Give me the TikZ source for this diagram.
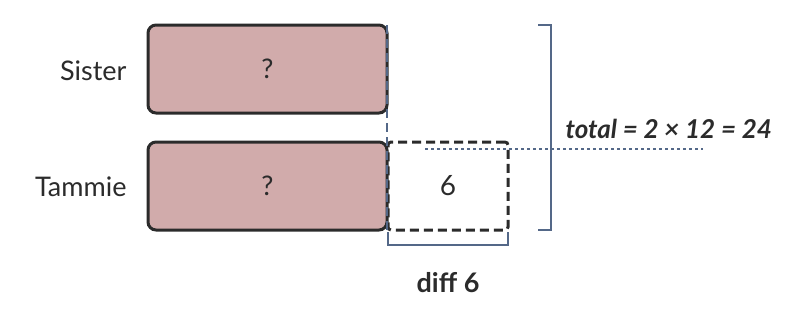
\documentclass[tikz,border=0pt]{standalone}
\usepackage{fontspec}
\setmainfont{Lato}
\usepackage{xcolor}
\usepackage{tikz}
\usetikzlibrary{positioning, calc}
\definecolor{rosefill}{RGB}{209,171,171}
\definecolor{inkdark}{RGB}{43,43,43}
\definecolor{slate}{RGB}{84,104,136}

\begin{document}
\begin{tikzpicture}[
    x=1pt, y=-1pt,
    node distance = 29pt and 1pt,
    bar/.style     = {rectangle, rounded corners=8pt, draw=inkdark, line width=3pt,
                      fill=rosefill, minimum width=239pt, minimum height=88pt,
                      outer sep=0pt, font=\fontsize{27}{32}\selectfont, text=inkdark},
    extra/.style   = {rectangle, rounded corners=3pt, draw=inkdark, line width=3pt,
                      dash pattern=on 9pt off 5pt, minimum width=120pt,
                      minimum height=88pt, outer sep=0pt,
                      font=\fontsize{28}{32}\selectfont, text=inkdark},
    who/.style     = {font=\fontsize{27}{32}\selectfont, text=inkdark, anchor=east},
    guide/.style   = {draw=slate, line width=2.4pt},
    note/.style    = {font=\fontsize{26}{30}\selectfont\bfseries\itshape, text=inkdark},
]
\useasboundingbox (0,0) rectangle (804,317);

\node[bar] (sister) at (267.5,69) {?};
\node[bar, below=of sister] (tammie) {?};
\node[extra, right=of tammie] (diffbox) {6};

\node[who] (sisterlbl) at (130,71) {Sister};
\node[who] (tammielbl) at (130,187) {Tammie};

% equal-length guide
\draw[guide, dash pattern=on 9pt off 5pt] (sister.north east) -- (tammie.south east);

% total bracket
\coordinate (ttop) at (538,25);
\coordinate (tbot) at (538,230);
\draw[guide] (ttop) -- ++(13,0) |- (tbot);

% difference bracket
\coordinate (dleft) at ($(diffbox.south west)+(0,2)$);
\coordinate (dright) at ($(diffbox.south east)+(0,2)$);
\draw[guide] (dleft) -- ++(0,13) -| (dright);

% dotted leader to total
\coordinate (lead) at (425,149);
\node[note, anchor=west] (total) at (562,129) {total = 2 × 12 = 24};
\draw[guide, line width=2.6pt, dash pattern=on 3pt off 3pt] (lead) -- (703,149);

\node[font=\fontsize{27}{32}\selectfont\bfseries, text=inkdark] (difflbl) at (448,283) {diff 6};
\end{tikzpicture}
\end{document}
